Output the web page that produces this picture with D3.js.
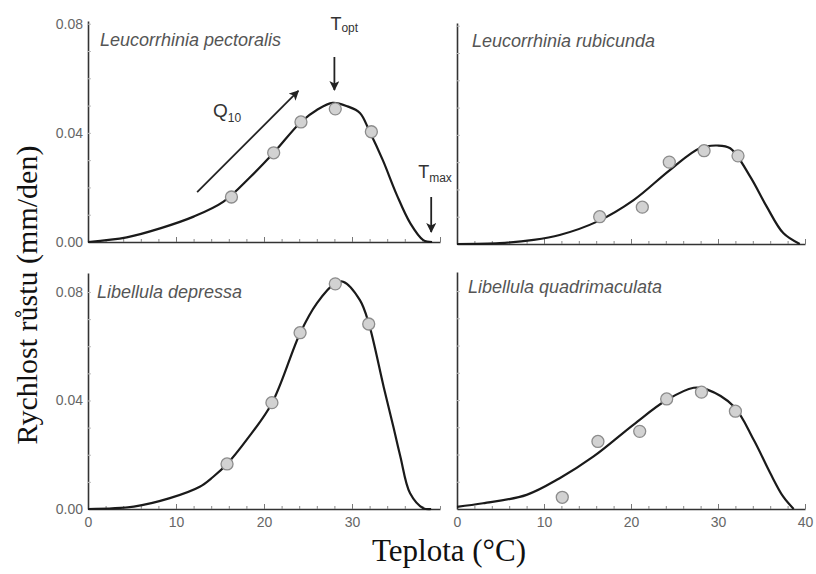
<!DOCTYPE html>
<html><head><meta charset="utf-8">
<script src="https://cdn.jsdelivr.net/npm/d3@7"></script>
<style>body{margin:0;background:#fff}</style>
</head><body>
<svg id="c" width="816" height="574" xmlns="http://www.w3.org/2000/svg"></svg>
<script>
// ---------- data ----------
const panelNames = ["Leucorrhinia pectoralis", "Leucorrhinia rubicunda", "Libellula depressa", "Libellula quadrimaculata"];
const xMajorTicks = [0, 10, 20, 30, 40];
const xMinorTicks = [0,2,4,6,8,10,12,14,16,18,20,22,24,26,28,30,32,34,36,38,40];
const yLabelTicks = [0, 0.04, 0.08];
const yMinorTicks = [0.01,0.02,0.03,0.04,0.05,0.06,0.07,0.08];

// Leucorrhinia pectoralis
const pectCurveT = [0, 4.4, 8.2, 12, 15.4, 18.5, 21.1, 24.2, 26, 27.8, 29.5, 30.9, 32.0, 33.5, 35.1, 36.6, 38.1, 39.1];
const pectCurveV = [0, 0.0017, 0.005, 0.0093, 0.0148, 0.024, 0.0327, 0.044, 0.0484, 0.051, 0.0497, 0.0473, 0.0405, 0.030, 0.0172, 0.007, 0.0007, 0];
const pectPtT = [16.3, 21.1, 24.2, 28.1, 32.2];
const pectPtV = [0.0165, 0.0327, 0.044, 0.0488, 0.0404];

// Leucorrhinia rubicunda
const rubiCurveT = [0, 4.9, 8.8, 11.8, 16.1, 20.3, 24.5, 27.9, 29.9, 31.4, 33.7, 35.6, 37.5, 39.4];
const rubiCurveV = [0, 0.0003, 0.0015, 0.0033, 0.0082, 0.0161, 0.0272, 0.0351, 0.0361, 0.0351, 0.0247, 0.0137, 0.004, 0];
const rubiPtT = [16.4, 21.3, 24.4, 28.4, 32.3];
const rubiPtV = [0.010, 0.0135, 0.030, 0.0342, 0.0323];

// Libellula depressa
const deprCurveT = [0, 5.2, 9.3, 12.7, 14.2, 15.8, 18, 20.9, 24.1, 26, 28.1, 29, 30.9, 31.9, 33.6, 34.7, 35.5, 36.6, 38.1, 39];
const deprCurveV = [0, 0.0009, 0.004, 0.0082, 0.0118, 0.0166, 0.0254, 0.039, 0.0648, 0.0758, 0.0832, 0.0838, 0.077, 0.0685, 0.045, 0.0303, 0.0193, 0.0058, 0.0003, 0];
const deprPtT = [15.8, 20.9, 24.1, 28.1, 31.9];
const deprPtV = [0.0166, 0.0392, 0.065, 0.083, 0.0682];

// Libellula quadrimaculata
const quadCurveT = [0, 3, 8, 11.8, 15.7, 20.3, 24.1, 27.2, 28.7, 31.8, 34.1, 36, 37.5, 38.7];
const quadCurveV = [0.0008, 0.0021, 0.0052, 0.0113, 0.0193, 0.031, 0.040, 0.0445, 0.0439, 0.0377, 0.0254, 0.0132, 0.0045, 0];
const quadPtT = [12.1, 16.2, 21, 24.1, 28.1, 32];
const quadPtV = [0.0043, 0.0248, 0.0285, 0.0404, 0.0429, 0.0359];

// annotation values (in data units of the first panel)
const toptT = 28, tmaxT = 39;
const q10From = [12.4, 0.0183], q10To = [23.9, 0.0554];

// ---------- layout ----------
const svg = d3.select("#c");
const defs = svg.append("defs");
defs.append("marker").attr("id","ah").attr("viewBox","0 0 10 10").attr("refX",9).attr("refY",5)
  .attr("markerWidth",10).attr("markerHeight",10).attr("markerUnits","userSpaceOnUse").attr("orient","auto")
  .append("path").attr("d","M0,0 L10,5 L0,10 L2.5,5 Z").attr("fill","#222");

const panels = [
  {name: panelNames[0], cT: pectCurveT, cV: pectCurveV, pT: pectPtT, pV: pectPtV, x0: 88, x1: 440, yB: 242, yT: 21, yMax: 0.081, yLab: true, xLab: null, tx: 100, ty: 46},
  {name: panelNames[1], cT: rubiCurveT, cV: rubiCurveV, pT: rubiPtT, pV: rubiPtV, x0: 457, x1: 805, yB: 244, yT: 23, yMax: 0.081, yLab: false, xLab: null, tx: 472, ty: 47},
  {name: panelNames[2], cT: deprCurveT, cV: deprCurveV, pT: deprPtT, pV: deprPtV, x0: 88, x1: 440, yB: 509, yT: 273, yMax: 0.087, yLab: true, xLab: [0,10,20,30], tx: 97, ty: 298},
  {name: panelNames[3], cT: quadCurveT, cV: quadCurveV, pT: quadPtT, pV: quadPtV, x0: 457, x1: 805, yB: 509, yT: 272, yMax: 0.087, yLab: false, xLab: xMajorTicks, tx: 468, ty: 293}
];

const scales = [];
panels.forEach((p, i) => {
  const x = d3.scaleLinear().domain([0, 40]).range([p.x0, p.x1]);
  const y = d3.scaleLinear().domain([0, p.yMax]).range([p.yB, p.yT]);
  scales.push({x, y});
  const g = svg.append("g");

  const gx = g.append("g").attr("transform", `translate(0,${p.yB})`)
    .call(d3.axisBottom(x).tickValues(xMinorTicks).tickSize(-3).tickSizeOuter(0).tickFormat(""));
  gx.select(".domain").attr("stroke", "#333").attr("stroke-width", 1.6);
  gx.selectAll(".tick line").attr("stroke", "#888").attr("stroke-width", 1);
  const gx2 = g.append("g").attr("transform", `translate(0,${p.yB})`)
    .call(d3.axisBottom(x).tickValues(p.xLab || xMajorTicks).tickSize(-5).tickPadding(8)
      .tickFormat(p.xLab ? d3.format("d") : ""));
  gx2.select(".domain").remove();
  gx2.selectAll(".tick line").attr("stroke", "#777").attr("stroke-width", 1);
  gx2.selectAll("text").attr("font-family", "Liberation Sans, Arial, sans-serif").attr("font-size", 14).attr("fill", "#666");

  const gy = g.append("g").attr("transform", `translate(${p.x0},0)`)
    .call(d3.axisRight(y).tickValues(yMinorTicks).tickSize(3).tickSizeOuter(0).tickFormat(""));
  gy.select(".domain").attr("stroke", "#333").attr("stroke-width", 1.6);
  gy.selectAll(".tick line").attr("stroke", "#bbb").attr("stroke-width", 1);
  if (p.yLab) {
    const gy2 = g.append("g").attr("transform", `translate(${p.x0},0)`)
      .call(d3.axisLeft(y).tickValues(yLabelTicks).tickSize(0).tickPadding(5).tickFormat(d3.format(".2f")));
    gy2.select(".domain").remove();
    gy2.selectAll("text").attr("font-family", "Liberation Sans, Arial, sans-serif").attr("font-size", 14).attr("fill", "#666");
  }

  g.append("text").attr("x", p.tx).attr("y", p.ty).text(p.name)
    .attr("font-family", "Liberation Sans, Arial, sans-serif").attr("font-style", "italic")
    .attr("font-size", 18).attr("fill", "#555");

  const pts = p.cT.map((t, k) => [t, p.cV[k]]);
  g.append("path").datum(pts)
    .attr("d", d3.line().x(d => x(d[0])).y(d => y(Math.max(0, d[1]))).curve(d3.curveCatmullRom.alpha(0.5)))
    .attr("fill", "none").attr("stroke", "#1a1a1a").attr("stroke-width", 2.2);

  g.selectAll("circle.pt").data(p.pT.map((t, k) => [t, p.pV[k]])).join("circle")
    .attr("cx", d => x(d[0])).attr("cy", d => y(d[1])).attr("r", 6)
    .attr("fill", "#d2d2d2").attr("stroke", "#8c8c8c").attr("stroke-width", 1.3);
});

// ---------- annotations (panel 1) ----------
const sx = scales[0].x, sy = scales[0].y;
const ann = svg.append("g").attr("font-family", "Liberation Sans, Arial, sans-serif").attr("fill", "#333");
const topt = ann.append("text").attr("x", sx(toptT) - 4).attr("y", 30).attr("font-size", 18);
topt.append("tspan").text("T");
topt.append("tspan").attr("font-size", 12).attr("dy", 2).text("opt");
ann.append("line").attr("x1", sx(toptT)).attr("x2", sx(toptT)).attr("y1", 57).attr("y2", 90)
  .attr("stroke", "#222").attr("stroke-width", 1.8).attr("marker-end", "url(#ah)");
const tmax = ann.append("text").attr("x", sx(tmaxT) - 13).attr("y", 178).attr("font-size", 18);
tmax.append("tspan").text("T");
tmax.append("tspan").attr("font-size", 12).attr("dy", 4).text("max");
ann.append("line").attr("x1", sx(tmaxT)).attr("x2", sx(tmaxT)).attr("y1", 197).attr("y2", 232)
  .attr("stroke", "#222").attr("stroke-width", 1.8).attr("marker-end", "url(#ah)");
const q = ann.append("text").attr("x", 213).attr("y", 117).attr("font-size", 19);
q.append("tspan").text("Q");
q.append("tspan").attr("font-size", 12).attr("dy", 5).text("10");
ann.append("line").attr("x1", sx(q10From[0])).attr("y1", sy(q10From[1]))
  .attr("x2", sx(q10To[0])).attr("y2", sy(q10To[1]))
  .attr("stroke", "#222").attr("stroke-width", 1.8).attr("marker-end", "url(#ah)");

// ---------- axis titles ----------
svg.append("text").attr("transform", "translate(37,295) rotate(-90)").attr("text-anchor", "middle")
  .attr("font-family", "Liberation Serif, Times New Roman, serif").attr("font-size", 30).attr("fill", "#111")
  .text("Rychlost růstu (mm/den)");
svg.append("text").attr("x", 449).attr("y", 561).attr("text-anchor", "middle")
  .attr("font-family", "Liberation Serif, Times New Roman, serif").attr("font-size", 31).attr("fill", "#111")
  .text("Teplota (°C)");
</script>
</body></html>
